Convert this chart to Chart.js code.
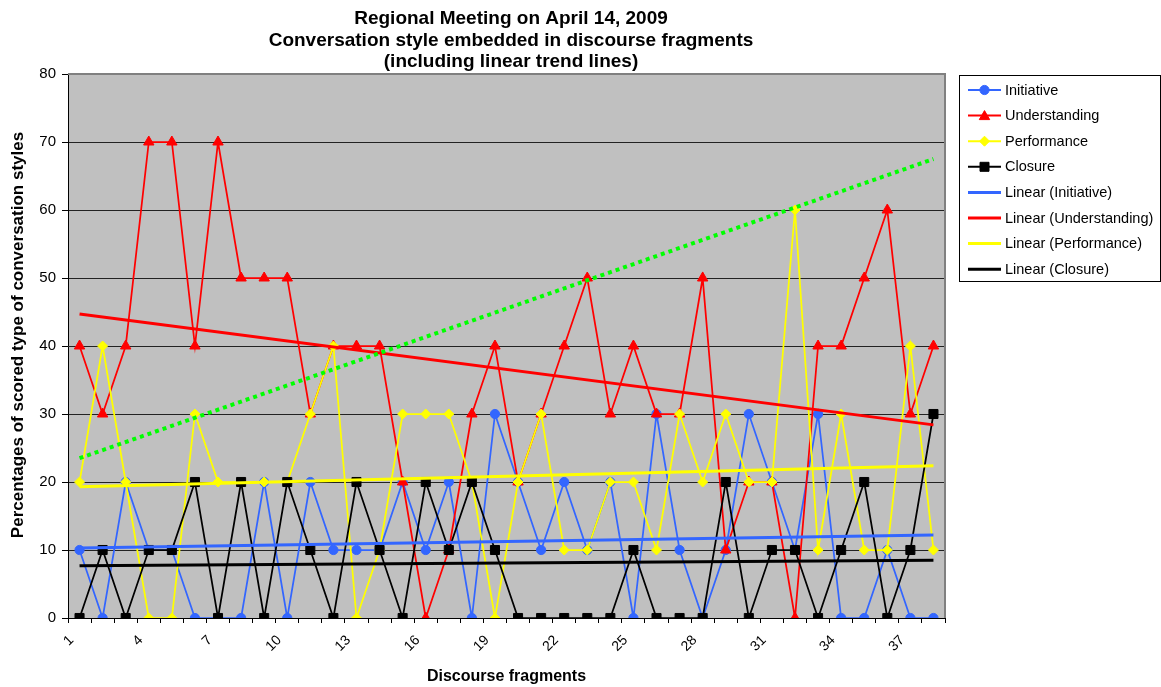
<!DOCTYPE html>
<html>
<head>
<meta charset="utf-8">
<script src="https://cdn.jsdelivr.net/npm/chart.js@4/dist/chart.umd.min.js"></script>
<style>
html,body{margin:0;padding:0;background:#fff;overflow:hidden}
#wrap{width:1161px;height:687px;position:relative}
</style>
</head>
<body>
<div id="wrap"><canvas id="c" width="1161" height="687"></canvas></div>
<script>
// ---------- data ----------
const categories = ['1','2','3','4','5','6','7','8','9','10','11','12','13','14','15','16','17','18','19','20',
                    '21','22','23','24','25','26','27','28','29','30','31','32','33','34','35','36','37','38'];
const shownTickLabels = ['1','4','7','10','13','16','19','22','25','28','31','34','37'];
const yTickValues = [0,10,20,30,40,50,60,70,80];

const initiative    = [10,0,20,10,10,0,0,0,20,0,20,10,10,10,20,10,20,0,30,20,10,20,10,20,0,30,10,0,10,30,20,10,30,0,0,10,0,0];
const understanding = [40,30,40,70,70,40,70,50,50,50,30,40,40,40,20,0,10,30,40,20,30,40,50,30,40,30,30,50,10,20,20,0,40,40,50,60,30,40];
const performance   = [20,40,20,0,0,30,20,20,20,20,30,40,0,10,30,30,30,20,0,20,30,10,10,20,20,10,30,20,30,20,20,60,10,30,10,10,40,10];
const closure       = [0,10,0,10,10,20,0,20,0,20,10,0,20,10,0,20,10,20,10,0,0,0,0,0,10,0,0,0,20,0,10,10,0,10,20,0,10,30];

// trend line end values (first and last fragment)
const trendInitiative    = [10.3, 12.2];
const trendUnderstanding = [44.7, 28.4];
const trendPerformance   = [19.3, 22.4];
const trendClosure       = [7.7, 8.5];
const greenDottedTrend   = [23.5, 67.5];

const titleLines = ['Regional Meeting on April 14, 2009',
                    'Conversation style embedded in discourse fragments',
                    '(including linear trend lines)'];
const yAxisTitle = 'Percentages of scored type of conversation styles';
const xAxisTitle = 'Discourse fragments';

// ---------- chart ----------
const FONT = "'Liberation Sans', Arial, Helvetica, sans-serif";
Chart.defaults.font.family = FONT;
Chart.defaults.color = '#000';

function endsOnly(pair) {
  return categories.map((_, i) => i === 0 ? pair[0] : (i === categories.length - 1 ? pair[1] : null));
}

const BLUE = '#3366FF', RED = '#FF0000', YELLOW = '#FFFF00', BLACK = '#000000', GREEN = '#00FF00';

function seriesDs(label, data, color, style, radius, order) {
  return { label, data, borderColor: color, backgroundColor: color, pointBackgroundColor: color,
           pointBorderColor: color, pointStyle: style, pointRadius: radius, pointBorderWidth: 1,
           borderWidth: 1.75, tension: 0, order, inLegend: true };
}
function trendDs(label, pair, color, order) {
  return { label, data: endsOnly(pair), borderColor: color, backgroundColor: color, pointRadius: 0,
           borderWidth: 3, spanGaps: true, tension: 0, order, inLegend: true };
}

const datasets = [
  seriesDs('Initiative', initiative, BLUE, 'circle', 4.6, 8),
  seriesDs('Understanding', understanding, RED, 'triangle', 6, 7),
  seriesDs('Performance', performance, YELLOW, 'rectRot', 5, 6),
  seriesDs('Closure', closure, BLACK, 'rect', 6.4, 5),
  trendDs('Linear (Initiative)', trendInitiative, BLUE, 4),
  trendDs('Linear (Understanding)', trendUnderstanding, RED, 3),
  trendDs('Linear (Performance)', trendPerformance, YELLOW, 2),
  trendDs('Linear (Closure)', trendClosure, BLACK, 1),
  { label: 'trend', data: endsOnly(greenDottedTrend), borderColor: GREEN, backgroundColor: GREEN,
    pointRadius: 0, borderWidth: 4, borderDash: [4, 4], spanGaps: true, order: 0, inLegend: false }
];

function drawMarker(ctx, style, x, y, color) {
  ctx.save();
  ctx.fillStyle = color; ctx.strokeStyle = color; ctx.lineWidth = 1;
  ctx.beginPath();
  if (style === 'circle') {
    ctx.arc(x, y, 4.6, 0, Math.PI * 2);
  } else if (style === 'triangle') {
    ctx.moveTo(x, y - 5); ctx.lineTo(x + 5.2, y + 4); ctx.lineTo(x - 5.2, y + 4); ctx.closePath();
  } else if (style === 'rectRot') {
    ctx.moveTo(x, y - 5); ctx.lineTo(x + 5, y); ctx.lineTo(x, y + 5); ctx.lineTo(x - 5, y); ctx.closePath();
  } else if (style === 'rect') {
    ctx.rect(x - 4.5, y - 4.5, 9, 9);
  }
  ctx.fill(); ctx.stroke();
  ctx.restore();
}

const decorPlugin = {
  id: 'decor',
  beforeDraw(chart) {
    const { ctx, chartArea: a } = chart;
    ctx.save();
    ctx.fillStyle = '#FFFFFF';
    ctx.fillRect(0, 0, chart.width, chart.height);
    ctx.fillStyle = '#C0C0C0';
    ctx.fillRect(a.left, a.top, a.right - a.left, a.bottom - a.top);
    ctx.restore();
  },
  afterDraw(chart) {
    const { ctx, chartArea: a } = chart;
    ctx.save();
    // plot area top/right border
    ctx.strokeStyle = '#808080'; ctx.lineWidth = 2;
    ctx.beginPath();
    ctx.moveTo(a.left, a.top); ctx.lineTo(a.right, a.top); ctx.lineTo(a.right, a.bottom);
    ctx.stroke();

    // title
    ctx.fillStyle = '#000';
    ctx.font = 'bold 19px ' + FONT;
    ctx.textAlign = 'center'; ctx.textBaseline = 'alphabetic';
    const baselines = [24, 45.5, 67];
    titleLines.forEach((t, i) => ctx.fillText(t, 511, baselines[i]));

    // y axis title
    ctx.save();
    ctx.translate(18, 335);
    ctx.rotate(-Math.PI / 2);
    ctx.font = 'bold 17px ' + FONT;
    ctx.textAlign = 'center'; ctx.textBaseline = 'middle';
    ctx.fillText(yAxisTitle, 0, 0);
    ctx.restore();

    // legend
    const bx = 959, by = 75, bw = 201, bh = 206;
    ctx.strokeStyle = '#000'; ctx.lineWidth = 1;
    ctx.strokeRect(bx + 0.5, by + 0.5, bw, bh);
    const items = chart.data.datasets.filter(d => d.inLegend);
    items.forEach((d, i) => {
      const y = 90 + i * 25.6;
      ctx.strokeStyle = d.borderColor;
      ctx.lineWidth = d.pointRadius > 0 ? 2 : 3;
      ctx.beginPath(); ctx.moveTo(968, y); ctx.lineTo(1001, y); ctx.stroke();
      if (d.pointRadius > 0) drawMarker(ctx, d.pointStyle, 984.5, y, d.backgroundColor);
      ctx.fillStyle = '#000';
      ctx.font = '14.5px ' + FONT;
      ctx.textAlign = 'left'; ctx.textBaseline = 'middle';
      ctx.fillText(d.label, 1005, y + 0.5);
    });
    ctx.restore();
  }
};

new Chart(document.getElementById('c'), {
  type: 'line',
  data: { labels: categories, datasets },
  options: {
    responsive: false,
    animation: false,
    devicePixelRatio: 1,
    events: [],
    layout: { padding: { top: 74, right: 216, left: 0, bottom: 0 } },
    plugins: { legend: { display: false }, tooltip: { enabled: false }, title: { display: false } },
    elements: { line: { tension: 0 } },
    scales: {
      x: {
        type: 'category',
        offset: true,
        afterFit(scale) { scale.height = 69; },
        grid: { offset: true, drawOnChartArea: false, drawTicks: true, tickLength: 5, color: '#000', tickColor: '#000', lineWidth: 1 },
        border: { display: true, color: '#000', width: 1 },
        ticks: {
          autoSkip: false, minRotation: 45, maxRotation: 45, labelOffset: -8, padding: 9,
          font: { size: 14 }, color: '#000',
          callback(val) { const lab = this.getLabelForValue(val); return shownTickLabels.includes(lab) ? lab : ''; }
        },
        title: { display: true, text: xAxisTitle, font: { size: 16, weight: 'bold' }, color: '#000', padding: { top: 0, bottom: 1 } }
      },
      y: {
        min: yTickValues[0], max: yTickValues[yTickValues.length - 1],
        afterFit(scale) { scale.width = 68; },
        afterBuildTicks(scale) { scale.ticks = yTickValues.map(v => ({ value: v })); },
        grid: {
          drawTicks: true, tickLength: 6, tickColor: '#000',
          color: ctx => (ctx.tick && ctx.tick.value === 80) ? 'rgba(0,0,0,0)' : '#222',
          lineWidth: 1
        },
        border: { display: true, color: '#000', width: 1 },
        ticks: { font: { size: 15 }, color: '#000', padding: 6 }
      }
    }
  },
  plugins: [decorPlugin]
});
</script>
</body>
</html>
